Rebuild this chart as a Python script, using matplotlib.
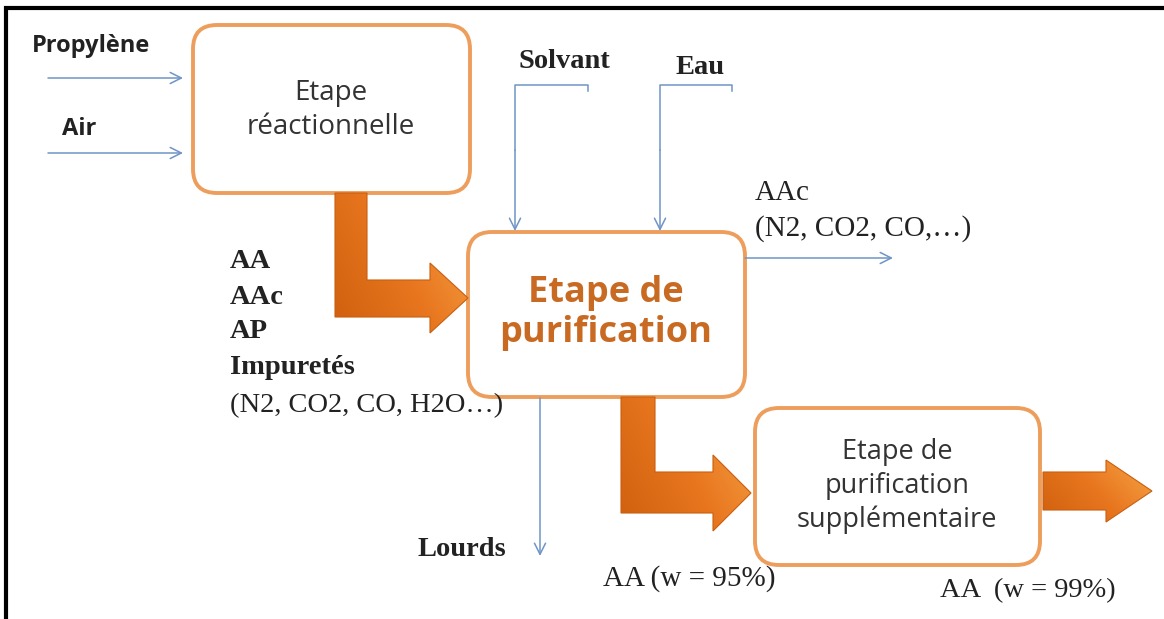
import matplotlib
matplotlib.use("Agg")
import numpy as np
import matplotlib.pyplot as plt
from matplotlib.patches import FancyBboxPatch, Polygon
from matplotlib.colors import LinearSegmentedColormap

# textes du schema
entrees = ["Propylène", "Air"]
titre_reac = "Etape\nréactionnelle"
titre_purif = "Etape de\npurification"
titre_supp = "Etape de\npurification\nsupplémentaire"
ajouts = ["Solvant", "Eau"]
sortie_reac = ["AA", "AAc", "AP", "Impuretés", "(N2, CO2, CO, H2O…)"]
sortie_gaz = ["AAc", "(N2, CO2, CO,…)"]
lourds = "Lourds"
produit_95 = "AA (w = 95%)"
produit_99 = "AA  (w = 99%)"

ORANGE_EDGE = "#EE9E5C"
ORANGE_DARK = "#C95F10"
ORANGE_TXT = "#C96A22"
BLUE = "#6F94C6"
TXT = "#222222"
SANS = ["Open Sans", "DejaVu Sans"]
SERIF = ["Liberation Serif", "DejaVu Serif"]
degrade = LinearSegmentedColormap.from_list(
    "orange", ["#D0600E", "#E8761F", "#F6A445"])

fig = plt.figure(figsize=(11.64, 6.19), dpi=100)
ax = fig.add_axes([0, 0, 1, 1])
ax.set_xlim(0, 1164)
ax.set_ylim(619, 0)
ax.axis("off")

# cadre noir (haut et gauche)
ax.plot([6, 6, 1164], [619, 8, 8], color="black", lw=3, solid_joinstyle="miter")


def boite(x, y, w, h):
    ax.add_patch(FancyBboxPatch((x, y), w, h,
                                boxstyle="round,pad=0,rounding_size=24",
                                fc="white", ec=ORANGE_EDGE, lw=2.8))


def fleche_fine(x0, y0, x1, y1):
    ax.annotate("", xy=(x1, y1), xytext=(x0, y0),
                arrowprops=dict(arrowstyle="->", color=BLUE, lw=1.1,
                                mutation_scale=20, shrinkA=0, shrinkB=0))


def grosse_fleche(pts):
    pts = np.array(pts, dtype=float)
    poly = Polygon(pts, closed=True, fc="none", ec=ORANGE_DARK,
                   lw=0.8, joinstyle="miter", zorder=3)
    ax.add_patch(poly)
    x0, x1 = pts[:, 0].min(), pts[:, 0].max()
    y0, y1 = pts[:, 1].min(), pts[:, 1].max()
    gx, gy = np.meshgrid(np.linspace(0, 1, 60), np.linspace(0, 1, 60))
    grad = 0.65 * gx + 0.35 * (1 - gy)
    im = ax.imshow(grad, extent=(x0, x1, y1, y0), cmap=degrade,
                   origin="upper", aspect="auto", zorder=2,
                   interpolation="bilinear")
    im.set_clip_path(poly)
    ax.set_xlim(0, 1164)
    ax.set_ylim(619, 0)


# boites
boite(193, 25, 277, 168)
boite(468, 232, 277, 165)
boite(755, 408, 285, 157)

ax.text(331, 110, titre_reac, ha="center", va="center", fontsize=20,
        family=SANS, color="#333333", linespacing=1.25)
ax.text(606, 313, titre_purif, ha="center", va="center", fontsize=26,
        family=SANS, weight="bold", color=ORANGE_TXT, linespacing=1.15)
ax.text(897, 486, titre_supp, ha="center", va="center", fontsize=19.5,
        family=SANS, color="#333333", linespacing=1.25)

# entrees
ax.text(32, 46, entrees[0], fontsize=17, family=SANS, weight="bold",
        color=TXT, va="center")
ax.text(62, 129, entrees[1], fontsize=17, family=SANS, weight="bold",
        color=TXT, va="center")
fleche_fine(48, 78, 183, 78)
fleche_fine(48, 153, 183, 153)

# solvant et eau
ax.text(519, 62, ajouts[0], fontsize=20.5, family=SERIF, weight="bold",
        color=TXT, va="center")
ax.text(675, 68, ajouts[1], fontsize=20.5, family=SERIF, weight="bold",
        color=TXT, va="center")
ax.plot([588, 588, 515, 515], [91, 85, 85, 150], color=BLUE, lw=1.1)
fleche_fine(515, 150, 515, 231)
ax.plot([732, 732, 660, 660], [91, 85, 85, 150], color=BLUE, lw=1.1)
fleche_fine(660, 150, 660, 231)

# sortie gaz
fleche_fine(745, 258, 893, 258)
ax.text(755, 193, sortie_gaz[0], fontsize=21, family=SERIF, color=TXT,
        va="center")
ax.text(755, 229, sortie_gaz[1], fontsize=21, family=SERIF, color=TXT,
        va="center")

# sortie reactionnelle
ys = [262, 297, 332, 368, 406]
for lab, yy in zip(sortie_reac, ys):
    ax.text(230, yy, lab, fontsize=20.5, family=SERIF,
            weight="bold" if yy < 400 else "normal", color=TXT,
            va="center")

# lourds
fleche_fine(540, 398, 540, 556)
ax.text(418, 549, lourds, fontsize=20.5, family=SERIF, weight="bold",
        color=TXT, va="center")

# grosses fleches orange
grosse_fleche([(335, 193), (367, 193), (367, 280), (430, 280), (430, 263),
               (468, 298), (430, 333), (430, 317), (335, 317)])
grosse_fleche([(621, 397), (655, 397), (655, 472), (713, 472), (713, 455),
               (751, 493), (713, 531), (713, 513), (621, 513)])
grosse_fleche([(1043, 472), (1106, 472), (1106, 460), (1152, 491),
               (1106, 522), (1106, 510), (1043, 510)])

ax.text(603, 579, produit_95, fontsize=21, family=SERIF, color=TXT,
        va="center")
ax.text(940, 591, produit_99, fontsize=20.5, family=SERIF, color=TXT,
        va="center")

fig.savefig("out.png", dpi=100)
